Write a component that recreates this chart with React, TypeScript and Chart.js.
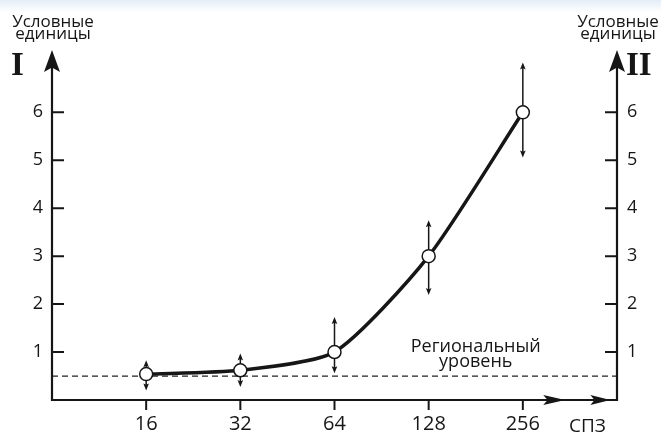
import React, { useEffect, useRef } from "react";
import { Chart, registerables } from "chart.js";

Chart.register(...registerables);

const xLabels = ["16", "32", "64", "128", "256"];
const xPositions = [1, 2, 3, 4, 5];
const values = [0.54, 0.62, 1.0, 3.0, 6.0];
const errLow = [0.2, 0.27, 0.56, 2.19, 5.06];
const errHigh = [0.83, 0.97, 1.73, 3.75, 7.04];
const regionalLevel = 0.5;
const yTickLabels = [1, 2, 3, 4, 5, 6];
const xMin = 0;
const xMax = 6;
const yMin = 0;
const yMax = 7.3;

const FONT = "'Open Sans', 'Noto Sans', 'DejaVu Sans', sans-serif";
const INK = "#161616";

function arrowHead(ctx: CanvasRenderingContext2D, tipX: number, tipY: number, dir: "up" | "down" | "right", len: number, half: number) {
  ctx.beginPath();
  if (dir === "up") {
    ctx.moveTo(tipX, tipY);
    ctx.lineTo(tipX - half, tipY + len);
    ctx.lineTo(tipX, tipY + len * 0.8);
    ctx.lineTo(tipX + half, tipY + len);
  } else if (dir === "down") {
    ctx.moveTo(tipX, tipY);
    ctx.lineTo(tipX - half, tipY - len);
    ctx.lineTo(tipX, tipY - len * 0.8);
    ctx.lineTo(tipX + half, tipY - len);
  } else {
    ctx.moveTo(tipX, tipY);
    ctx.lineTo(tipX - len, tipY - half);
    ctx.lineTo(tipX - len * 0.8, tipY);
    ctx.lineTo(tipX - len, tipY + half);
  }
  ctx.closePath();
  ctx.fill();
}

const errorBarsPlugin = {
  id: "errorBars",
  beforeDatasetsDraw(chart: any) {
    const { ctx, scales } = chart;
    const xs = scales.x;
    const ys = scales.y;
    ctx.save();
    ctx.strokeStyle = INK;
    ctx.fillStyle = INK;
    ctx.lineWidth = 1.5;
    xPositions.forEach((xv, i) => {
      const px = xs.getPixelForValue(xv);
      const top = ys.getPixelForValue(errHigh[i]);
      const bot = ys.getPixelForValue(errLow[i]);
      ctx.beginPath();
      ctx.moveTo(px, top + 3);
      ctx.lineTo(px, bot - 3);
      ctx.stroke();
      arrowHead(ctx, px, top, "up", 7, 2.8);
      arrowHead(ctx, px, bot, "down", 7, 2.8);
    });
    ctx.restore();
  },
};

const axesPlugin = {
  id: "axesDecor",
  afterDraw(chart: any) {
    const { ctx, scales } = chart;
    const xs = scales.x;
    const ys = scales.y;
    const left = xs.getPixelForValue(xMin);
    const right = xs.getPixelForValue(xMax);
    const bottom = ys.getPixelForValue(yMin);
    const top = ys.getPixelForValue(yMax);
    ctx.save();
    ctx.strokeStyle = INK;
    ctx.fillStyle = INK;
    ctx.lineWidth = 2.2;
    ctx.lineCap = "butt";
    ctx.beginPath();
    ctx.moveTo(left, top + 8);
    ctx.lineTo(left, bottom);
    ctx.lineTo(right, bottom);
    ctx.lineTo(right, top + 8);
    ctx.stroke();
    arrowHead(ctx, left, top, "up", 22, 8);
    arrowHead(ctx, right, top, "up", 22, 8);
    arrowHead(ctx, xs.getPixelForValue(5.45), bottom, "right", 22, 5);
    arrowHead(ctx, xs.getPixelForValue(5.93), bottom, "right", 20, 5);
    ctx.lineWidth = 2;
    yTickLabels.forEach((v) => {
      const py = ys.getPixelForValue(v);
      ctx.beginPath();
      ctx.moveTo(left, py);
      ctx.lineTo(left + 12, py);
      ctx.moveTo(right, py);
      ctx.lineTo(right - 12, py);
      ctx.stroke();
    });
    xPositions.forEach((v) => {
      const px = xs.getPixelForValue(v);
      ctx.beginPath();
      ctx.moveTo(px, bottom);
      ctx.lineTo(px, bottom + 10);
      ctx.stroke();
    });
    ctx.textAlign = "center";
    ctx.textBaseline = "alphabetic";
    ctx.font = `17px ${FONT}`;
    ctx.fillText("Условные", left + 1, 27);
    ctx.fillText("единицы", left + 1, 39);
    ctx.fillText("Условные", right + 1, 27);
    ctx.fillText("единицы", right + 1, 39);
    ctx.font = `bold 33px 'Liberation Serif', 'DejaVu Serif', serif`;
    ctx.textAlign = "left";
    ctx.fillText("I", left - 41, 75);
    ctx.fillText("II", right + 9, 75);
    ctx.font = `19px ${FONT}`;
    ctx.fillText("СПЗ", right - 48, 432);
    ctx.textAlign = "center";
    ctx.font = `18px ${FONT}`;
    const cx = xs.getPixelForValue(4.5);
    ctx.fillText("Региональный", cx, 352);
    ctx.fillText("уровень", cx, 367);
    ctx.restore();
  },
};

export default function App() {
  const ref = useRef<HTMLCanvasElement | null>(null);
  useEffect(() => {
    if (!ref.current) return;
    const chart = new Chart(ref.current, {
      type: "line",
      data: {
        datasets: [
          {
            data: xPositions.map((x, i) => ({ x, y: values[i] })),
            borderColor: INK,
            borderWidth: 3.5,
            tension: 0.22,
            pointRadius: 6.5,
            pointHoverRadius: 6.5,
            pointBackgroundColor: "#ffffff",
            pointBorderColor: INK,
            pointBorderWidth: 1.5,
            yAxisID: "y",
          } as any,
          {
            data: [
              { x: xMin, y: regionalLevel },
              { x: xMax, y: regionalLevel },
            ],
            borderColor: "#222",
            borderWidth: 1.2,
            borderDash: [6, 4],
            pointRadius: 0,
            yAxisID: "y",
          },
        ],
      },
      options: {
        animation: false,
        responsive: false,
        layout: { padding: { top: 50, left: 0, right: 0, bottom: 0 } },
        plugins: { legend: { display: false }, tooltip: { enabled: false } },
        events: [],
        scales: {
          x: {
            type: "linear",
            min: xMin,
            max: xMax,
            grid: { display: false, drawTicks: false },
            border: { display: false },
            afterFit: (s: any) => {
              s.height = 35;
            },
            ticks: {
              stepSize: 1,
              padding: 12,
              color: INK,
              font: { family: FONT, size: 20 },
              maxRotation: 0,
              autoSkip: false,
              callback: (v: any) => {
                const i = xPositions.indexOf(Number(v));
                return i >= 0 ? xLabels[i] : null;
              },
            },
          },
          y: {
            type: "linear",
            position: "left",
            min: yMin,
            max: yMax,
            grid: { display: false, drawTicks: false },
            border: { display: false },
            afterFit: (s: any) => {
              s.width = 52;
            },
            ticks: {
              stepSize: 1,
              padding: 9,
              color: INK,
              font: { family: FONT, size: 18 },
              autoSkip: false,
              callback: (v: any) => (yTickLabels.includes(Number(v)) ? String(v) : null),
            },
          },
          y2: {
            type: "linear",
            position: "right",
            min: yMin,
            max: yMax,
            grid: { display: false, drawTicks: false },
            border: { display: false },
            afterFit: (s: any) => {
              s.width = 44;
            },
            ticks: {
              stepSize: 1,
              padding: 10,
              color: INK,
              font: { family: FONT, size: 18 },
              autoSkip: false,
              callback: (v: any) => (yTickLabels.includes(Number(v)) ? String(v) : null),
            },
          },
        },
      } as any,
      plugins: [errorBarsPlugin, axesPlugin],
    });
    return () => chart.destroy();
  }, []);
  return (
    <div
      style={{
        position: "fixed",
        left: 0,
        top: 0,
        width: 661,
        height: 435,
        background: "linear-gradient(#e4edf7 0px, #ffffff 12px)",
      }}
    >
      <canvas ref={ref} width={661} height={435} style={{ display: "block", width: 661, height: 435 }} />
    </div>
  );
}
